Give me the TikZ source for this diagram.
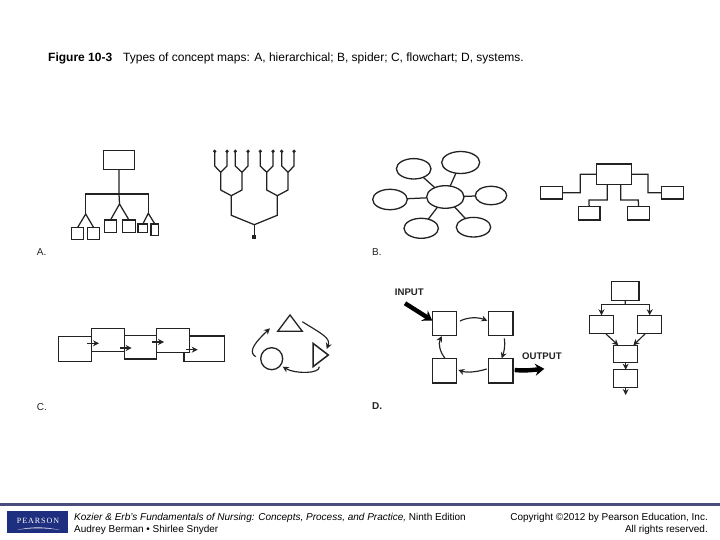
\documentclass[tikz,border=0pt]{standalone}
\usepackage{fontspec}
\setmainfont{Liberation Sans}
\newfontfamily\logofont{Liberation Serif}
\usetikzlibrary{shapes.geometric,arrows.meta}
\definecolor{ink}{HTML}{222222}
\definecolor{barblue}{HTML}{4A4D7D}
\definecolor{logoblue}{HTML}{1F2F7F}
\tikzset{
  boxs/.style={draw=ink,line width=1.35pt,fill=white,rectangle,inner sep=0pt,outer sep=0pt,anchor=north west},
  ell/.style={draw=ink,line width=1.3pt,fill=white,ellipse,inner sep=0pt,outer sep=0pt},
  wire/.style={draw=ink,line width=1.25pt},
  arr/.style={draw=ink,line width=1.15pt,-{Stealth[length=6pt,width=6pt]}},
  fat/.style={draw=black,line width=4.4pt,-{Stealth[length=9pt,width=12pt]}},
  lab/.style={anchor=base west,inner sep=0pt,text=ink},
  lett/.style={lab,font=\fontsize{10}{12}\selectfont},
  big/.style={lab,font=\fontsize{9.6}{11}\selectfont\bfseries},
  foot/.style={lab,text=black,font=\fontsize{10}{12}\selectfont},
}
\newcommand\bx[5]{\pgfmathsetmacro\wa{#4-#2}\pgfmathsetmacro\ha{#5-#3}\node[boxs,minimum width=\wa pt,minimum height=\ha pt] (#1) at (#2,#3) {};}
\newcommand\el[5]{\node[ell,minimum width=#4*2pt,minimum height=#5*2pt] (#1) at (#2,#3) {};}
\begin{document}
\begin{tikzpicture}[x=1pt,y=-1pt]
\useasboundingbox (0,0) rectangle (720,540);
\fill[white] (0,0) rectangle (720,540);
% title
\node[lab,text=black,font=\fontsize{12}{14}\selectfont\bfseries] (fig) at (48,61.7) {Figure 10-3};
\node[lab,text=black,font=\fontsize{12}{14}\selectfont] (figt) at (123,61.7) {Types of concept maps: A, hierarchical; B, spider; C, flowchart; D, systems.};
% A left
\bx{top}{103.7}{150.7}{134.3}{169.3}
\bx{a1}{71.7}{227.3}{83.7}{239.3}
\bx{a2}{87.3}{227.3}{99.7}{239.3}
\bx{a3}{104.3}{220}{116.7}{232.7}
\bx{a4}{122.7}{220}{135.3}{232.7}
\bx{a5}{138}{224}{147.7}{232.3}
\bx{a6}{151}{224}{158.7}{235.3}
\coordinate (hub) at (119.5,194);
\coordinate (hl) at (85.7,194);
\coordinate (hr) at (148.3,194);
\coordinate (jl) at (85.7,214);
\coordinate (jm) at (119.5,204);
\coordinate (jr) at (148.3,213.3);
\draw[wire] (top.south) -- (top.south |- hub) -- (jm);
\draw[wire] (jl) -- (hl) -- (hr) -- (jr);
\draw[wire] (a1.north) -- (jl) -- (a2.north);
\draw[wire] (a3.north) -- (jm) -- (a4.north);
\draw[wire] (a5.north) -- (jr) -- (a6.north);
% A right tree
\foreach \n/\x in {1/214.7,2/227,3/235.3,4/248,5/260.3,6/273,7/281.7,8/294}{
  \fill[ink] (\x,151.3) circle (1.8pt);
  \coordinate (l\n) at (\x,151.3);
  \coordinate (d\n) at (\x,166);
}
\coordinate (m1) at (220.7,172.3);\coordinate (m2) at (242,172.3);\coordinate (m3) at (266.7,172.3);\coordinate (m4) at (288,172.3);
\draw[wire] (l1)--(d1)--(m1)--(d2)--(l2);
\draw[wire] (l3)--(d3)--(m2)--(d4)--(l4);
\draw[wire] (l5)--(d5)--(m3)--(d6)--(l6);
\draw[wire] (l7)--(d7)--(m4)--(d8)--(l8);
\coordinate (n1) at (231.3,195.7);\coordinate (n2) at (277.3,195.7);\coordinate (root) at (254.3,224.7);
\node[fill=ink,minimum size=4pt,inner sep=0pt] (rootbox) at (254.3,237) {};
\draw[wire] (m1)--(220.7,190)--(n1)--(242,190)--(m2);
\draw[wire] (m3)--(266.7,190)--(n2)--(288,190)--(m4);
\draw[wire] (n1)--(231.3,215.3)--(root)--(277.3,215.3)--(n2);
\draw[wire] (root)--(rootbox);
\node[lett] (la) at (36.7,255.8) {A.};
% B spider
\el{c}{445.3}{197}{18.7}{11.3}
\el{s1}{460.7}{162.5}{19}{11}
\el{s2}{413.7}{168.8}{17.3}{10.2}
\el{s3}{390}{199.5}{17.3}{10.2}
\el{s4}{491}{195.5}{15.7}{9.2}
\el{s5}{421.2}{228.3}{17.2}{10}
\el{s6}{473.5}{227.2}{17.2}{9.8}
\foreach \s in {s1,s2,s3,s4,s5,s6}{\draw[wire] (c) -- (\s);}
% B right
\bx{bc}{596.7}{164}{631.3}{184.7}
\bx{bl}{540.3}{186.3}{562.3}{199}
\bx{br}{661.7}{186.3}{683.3}{199}
\bx{b1}{578.3}{206.7}{600}{220}
\bx{b2}{627.7}{206.7}{649.3}{220}
\draw[wire] (bl.east) -- (580.3,192.7) -- (580.3,174.3) -- (bc.west);
\draw[wire] (bc.east) -- (648,174.3) -- (648,192.7) -- (br.west);
\draw[wire] (607.3,184.7) -- (607.3,200) -- (589,200) -- (b1.north);
\draw[wire] (620.7,184.7) -- (620.7,200) -- (638.3,200) -- (b2.north);
\node[lett] (lb) at (372,255.4) {B.};
% C flowchart
\bx{f1}{58.3}{336.7}{91.3}{361.7}
\bx{f3}{124.3}{335.7}{156.7}{359}
\bx{f5}{184}{336}{224.3}{361.3}
\bx{f2}{91.3}{328.7}{124.3}{351.3}
\bx{f4}{156.7}{328.7}{189.3}{352.3}
\draw[arr] (87.3,343.3) -- (99,343.3);
\draw[arr] (120,348) -- (131.7,348);
\draw[arr] (152.3,342) -- (164,342);
\draw[arr] (186,349.7) -- (197.7,349.7);
% C shapes
\draw[ink,line width=1.3pt] (290,315) -- (302.3,331.3) -- (277.7,331.3) -- cycle;
\draw[ink,line width=1.5pt] (313,343.3) -- (328.3,355) -- (313,366.7) -- cycle;
\node[draw=ink,line width=1.3pt,circle,minimum size=22pt,inner sep=0pt,outer sep=0pt] (circ) at (271.7,358.7) {};
\draw[arr] (255.7,356.7) .. controls (250,353) and (250,347) .. (270,328.3);
\draw[arr] (302.3,321.7) .. controls (322,334) and (331,338) .. (326.7,349);
\draw[arr] (319.3,366.7) .. controls (320,374) and (295,374) .. (282.7,366.7);
\node[lett] (lc) at (36.7,410.5) {C.};
% D systems
\bx{d1}{432.7}{311.3}{456.7}{335.7}
\bx{d2}{488.7}{311.3}{513}{335.7}
\bx{d3}{432.7}{358.3}{456.7}{383}
\bx{d4}{488.7}{358.3}{513}{383}
\node[big] (inp) at (394.7,295.7) {INPUT};
\node[big] (outp) at (522,359) {OUTPUT};
\coordinate (in0) at (405,303.3);
\coordinate (in1) at (432.2,320.5);
\coordinate (out1) at (544.3,368.8);
\draw[fat] (in0) -- (in1);
\draw[fat] (514.7,370) .. controls (525,371) and (532,370) .. (out1);
\draw[arr] (460,321) .. controls (468,317) and (478,317) .. (487.3,320.7);
\draw[arr] (504.3,338.3) .. controls (505.5,345) and (504,352) .. (501.7,358.3);
\draw[arr] (486.7,369) .. controls (477,372) and (467,373) .. (458.3,370);
\draw[arr] (445,358.3) .. controls (440,352) and (438,344) .. (441.7,336);
\bx{e0}{611.7}{281.7}{639}{300.7}
\bx{e1}{589.7}{315.3}{613.3}{333.3}
\bx{e2}{637.7}{315.3}{661.7}{333.3}
\bx{e3}{613.7}{345.3}{637.7}{362.7}
\bx{e4}{613.7}{369.7}{637.7}{387.3}
\coordinate (eh) at (625.3,304.7);
\draw[wire] (e0.south) -- (eh);
\draw[arr] (eh) -| (e1.north);
\draw[arr] (eh) -| (e2.north);
\coordinate (e1o) at (606,334);
\coordinate (e2o) at (645,334);
\coordinate (e3l) at (618.3,345.3);
\coordinate (e3r) at (633.3,345.3);
\coordinate (eend) at (625.7,395);
\draw[arr] (e1o) -- (e3l);
\draw[arr] (e2o) -- (e3r);
\draw[arr] (e3.south) -- (e4.north);
\draw[arr] (e4.south) -- (eend);
\node[lett,font=\fontsize{10}{12}\selectfont\bfseries] (ld) at (372,409.8) {D.};
% footer
\fill[barblue] (0,503.3) rectangle (720,505.7);
\node[fill=logoblue,minimum width=61pt,minimum height=21.7pt,inner sep=0pt,anchor=north west] (logo) at (7,511) {};
\node[anchor=base,inner sep=0pt,text=white,font=\fontsize{8}{9}\logofont\addfontfeature{LetterSpace=12}] (pe) at (38,523) {PEARSON};
\fill[white!85!logoblue] (17,530) .. controls (30,526.5) and (45,526.5) .. (60,530) .. controls (45,527.7) and (30,527.7) .. (17,530) -- cycle;
\node[foot] (f1t) at (74,520.8) {\textit{Kozier \& Erb's Fundamentals of Nursing: Concepts, Process, and Practice,} Ninth Edition};
\node[foot] (f2t) at (74,532.6) {Audrey Berman • Shirlee Snyder};
\node[foot,anchor=base east] (f3t) at (708,520.8) {Copyright ©2012 by Pearson Education, Inc.};
\node[foot,anchor=base east] (f4t) at (708,532.6) {All rights reserved.};
\end{tikzpicture}
\end{document}
